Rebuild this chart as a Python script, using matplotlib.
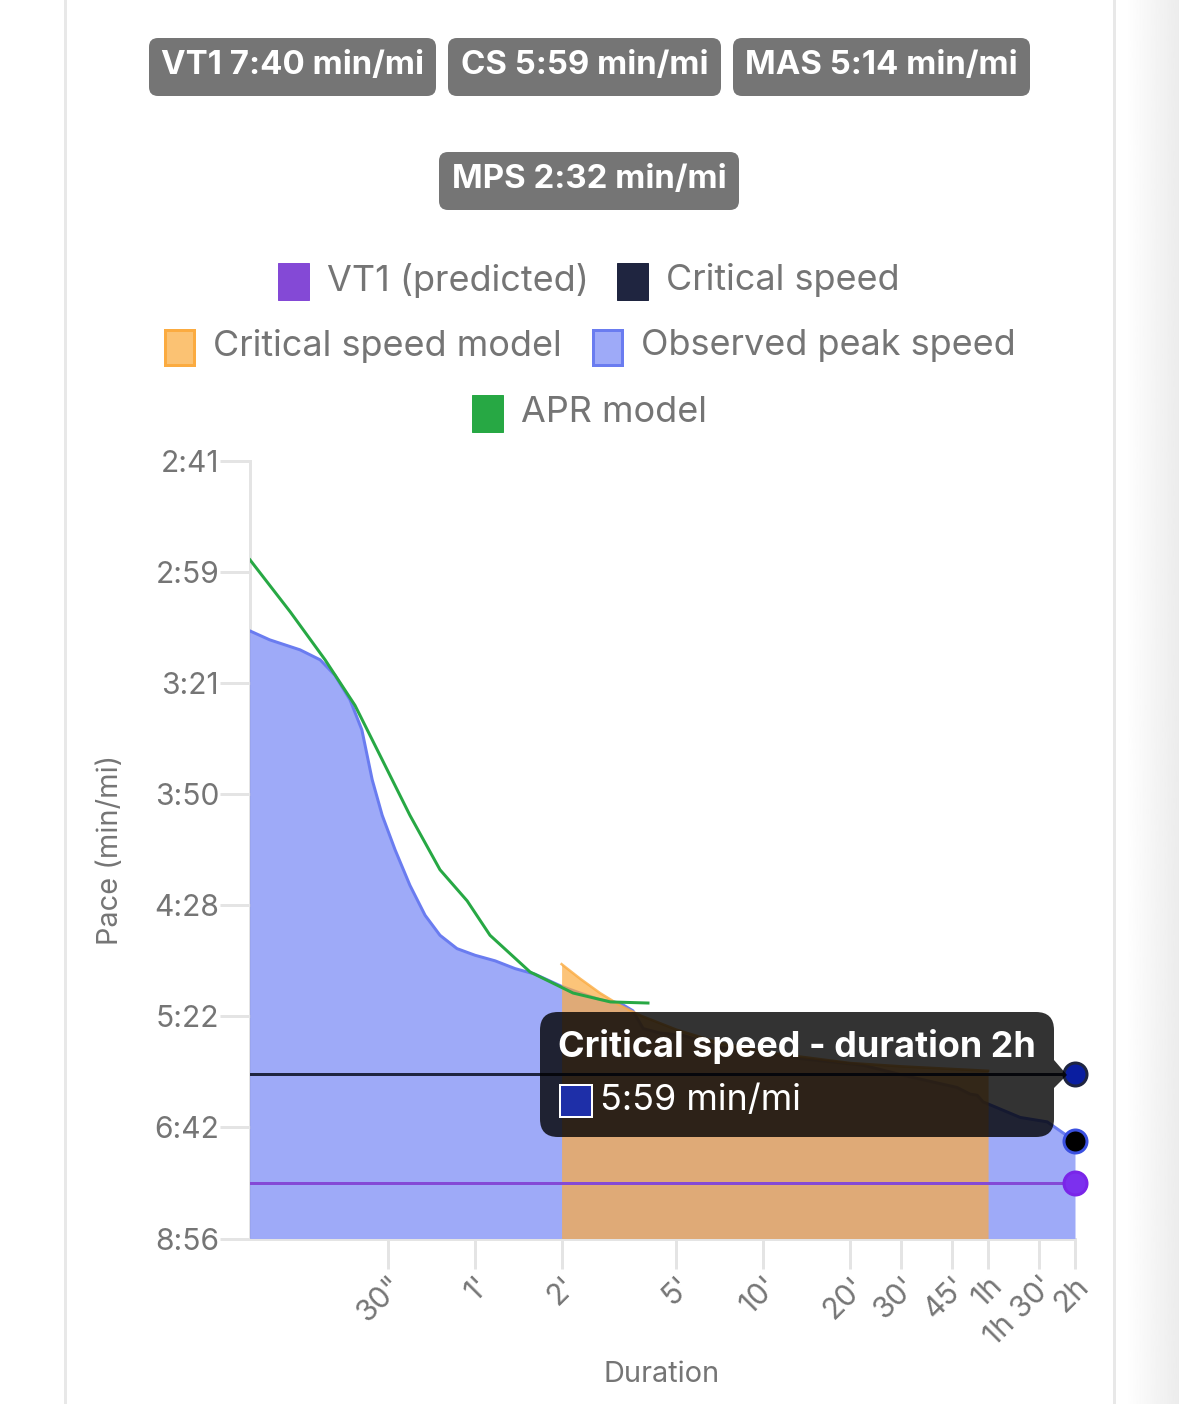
"""
Pace / duration curve with critical speed model, drawn to match the app screenshot.
"""

import numpy as np
import matplotlib
matplotlib.use("Agg")
import matplotlib.pyplot as plt
from matplotlib.patches import FancyBboxPatch, Polygon, Rectangle

plt.rcParams["font.family"] = ["Inter", "DejaVu Sans"]

# durations in seconds, speeds in m/s (the pace axis is linear in speed)
observed_t = [10, 11.7, 14.9, 17.5, 19.7, 22.2, 24.4, 26.5, 28.7, 31.8, 35.8, 40.4, 45.5, 52.1, 60.2,
              70.6, 82.8, 97, 120, 139, 163, 191, 212, 230, 263, 316, 425, 584, 804, 1329,
              1828, 2810, 3120, 3300, 3460, 4650, 5770, 6550, 7200]
observed_v = [8.47, 8.39, 8.30, 8.21, 8.07, 7.85, 7.58, 7.13, 6.81, 6.50, 6.18, 5.91, 5.73, 5.61, 5.55,
              5.50, 5.43, 5.38, 5.27, 5.21, 5.15, 5.12, 5.05, 4.89, 4.85, 4.83, 4.72, 4.68, 4.62, 4.56,
              4.47, 4.36, 4.30, 4.29, 4.23, 4.09, 4.05, 3.95, 3.88]

cs_model_t = [120, 139, 163, 191, 224, 300, 425, 600, 1200, 1800, 3600]
cs_model_v = [5.47, 5.34, 5.21, 5.10, 5.01, 4.88, 4.76, 4.68, 4.58, 4.55, 4.51]

apr_t = [10, 13.8, 18.2, 23.1, 28.2, 35.8, 45.5, 56.5, 67.8, 93.3, 131.5, 177, 239]
apr_v = [9.11, 8.64, 8.21, 7.80, 7.35, 6.81, 6.32, 6.04, 5.73, 5.40, 5.21, 5.13, 5.12]

critical_speed = 4.48
vt1_speed = 3.50
last_observed = 3.88
duration_end = 7200

x_ticks = [30, 60, 120, 300, 600, 1200, 1800, 2700, 3600, 5400, 7200]
x_labels = ['30"', "1'", "2'", "5'", "10'", "20'", "30'", "45'", "1h", "1h 30'", "2h"]
y_ticks = [3, 4, 5, 6, 7, 8, 9, 10]
y_labels = ["8:56", "6:42", "5:22", "4:28", "3:50", "3:21", "2:59", "2:41"]

badges = ["VT1 7:40 min/mi", "CS 5:59 min/mi", "MAS 5:14 min/mi", "MPS 2:32 min/mi"]
legend_names = ["VT1 (predicted)", "Critical speed", "Critical speed model", "Observed peak speed", "APR model"]

W, H = 1179, 1404
GREY = "#757575"
TICK = "#e4e4e4"
BLUE_LINE = "#6a7cf0"
BLUE_FILL = "#9eaaf8"
ORANGE = "#fbab40"
GREEN = "#27a844"
PURPLE = "#8449d6"
NAVY = "#1f2540"


def px(v):
    # pixels to points at dpi 100
    return v * 0.72


fig = plt.figure(figsize=(W / 100, H / 100), dpi=100)
ax = fig.add_axes([250 / W, 1 - 1238.5 / H, (1075 - 250) / W, (1238.5 - 461) / H])

ax.fill_between(observed_t, observed_v, 3, color=BLUE_FILL, lw=0, zorder=1)
ax.plot(observed_t, observed_v, color=BLUE_LINE, lw=px(3), zorder=2)
ax.plot([10, 10], [3, observed_v[0]], color=BLUE_LINE, lw=px(1.5), alpha=0.6, zorder=2)
ax.fill_between(cs_model_t, cs_model_v, 3, color=ORANGE, alpha=0.7, lw=0, zorder=3)
ax.plot(cs_model_t, cs_model_v, color=ORANGE, lw=px(2.5), alpha=0.8, zorder=3)
ax.plot(apr_t, apr_v, color=GREEN, lw=px(3), zorder=4)
ax.plot([10, duration_end], [critical_speed, critical_speed], color=NAVY, lw=px(3), zorder=5)
ax.plot([10, duration_end], [vt1_speed, vt1_speed], color=PURPLE, lw=px(3), zorder=5)

ax.plot([duration_end], [critical_speed], "o", ms=px(23), mfc="#0a1ea0", mec=NAVY, mew=px(3), clip_on=False, zorder=6)
ax.plot([duration_end], [last_observed], "o", ms=px(23), mfc="black", mec="#3a50e0", mew=px(3), clip_on=False, zorder=6)
ax.plot([duration_end], [vt1_speed], "o", ms=px(23), mfc="#7c30ee", mec="#7a25e8", mew=px(3), clip_on=False, zorder=6)

ax.set_xscale("log")
ax.set_xlim(10, duration_end)
ax.set_ylim(3, 10)
ax.minorticks_off()
ax.set_xticks(x_ticks)
ax.set_xticklabels(x_labels, rotation=45, ha="right", rotation_mode="anchor", fontsize=px(30), color=GREY)
ax.set_yticks(y_ticks)
ax.set_yticklabels(y_labels, fontsize=px(30), color=GREY)
ax.tick_params(axis="x", which="major", length=px(30), width=px(3), color=TICK, pad=px(3))
ax.tick_params(axis="y", which="major", length=px(30), width=px(3), color=TICK, pad=px(1))
ax.tick_params(axis="x", which="minor", length=0)
for side in ["top", "right"]:
    ax.spines[side].set_visible(False)
for side in ["left", "bottom"]:
    ax.spines[side].set_color(TICK)
    ax.spines[side].set_linewidth(px(3))
    ax.spines[side].set_zorder(0.5)

# overlay in screenshot pixels for the page furniture, badges, legend and tooltip
ov = fig.add_axes([0, 0, 1, 1], zorder=10)
ov.set_xlim(0, W)
ov.set_ylim(H, 0)
ov.axis("off")


def rounded(x0, y0, x1, y1, r, **kw):
    ov.add_patch(FancyBboxPatch((x0 + r, y0 + r), x1 - x0 - 2 * r, y1 - y0 - 2 * r,
                                boxstyle=f"round,pad={r},rounding_size={r}", lw=0, **kw))


ov.add_patch(Rectangle((63.5, 0), 3, H, color="#e8e8e8", lw=0))
ov.add_patch(Rectangle((1112.5, 0), 3, H, color="#e8e8e8", lw=0))
shade = np.linspace(1.0, 0.925, 60).reshape(1, -1)
ov.imshow(shade, extent=(1125, 1179, H, 0), cmap="gray", vmin=0, vmax=1, aspect="auto", zorder=0)
ov.set_xlim(0, W)
ov.set_ylim(H, 0)

badge_boxes = [(149, 38, 436, 96), (448, 38, 721, 96), (733, 38, 1030, 96), (439, 152, 739, 210)]
for name, (x0, y0, x1, y1) in zip(badges, badge_boxes):
    rounded(x0, y0, x1, y1, 9, color=GREY)
    ov.text((x0 + x1) / 2, (y0 + y1) / 2 - 1, name, color="white", fontsize=px(33), fontweight="bold",
            ha="center", va="center")

swatches = [(277, 262, PURPLE, PURPLE, 1), (616, 262, NAVY, NAVY, 1), (163, 328, "#fbc273", "#fbab40", 3),
            (591, 328, BLUE_FILL, BLUE_LINE, 3), (471, 394, GREEN, GREEN, 1)]
for name, (x0, y0, face, edge, lw) in zip(legend_names, swatches):
    ov.add_patch(Rectangle((x0 + lw / 2, y0 + lw / 2), 32 - lw, 38 - lw, facecolor=face, edgecolor=edge, lw=px(lw)))
    ov.text(x0 + 50, y0 + 18, name, color=GREY, fontsize=px(36), ha="left", va="center")

ov.text(110, 850, "Pace (min/mi)", color=GREY, fontsize=px(29), rotation=90, ha="center", va="center")
ov.text(662, 1375, "Duration", color=GREY, fontsize=px(29), ha="center", va="center")

# tooltip
rounded(540, 1012, 1054, 1137, 18, color="black", alpha=0.8)
ov.add_patch(Polygon([(1054, 1060), (1067, 1075), (1054, 1088)], color="black", alpha=0.8, lw=0))
ov.text(558, 1047, "Critical speed - duration 2h", color="white", fontsize=px(36), fontweight="bold",
        ha="left", va="center")
ov.add_patch(Rectangle((560, 1085), 32, 32, facecolor="#1e2fa8", edgecolor="white", lw=px(2)))
ov.text(600, 1101, "5:59 min/mi", color="white", fontsize=px(36), ha="left", va="center")

fig.savefig("out.png", dpi=100)
